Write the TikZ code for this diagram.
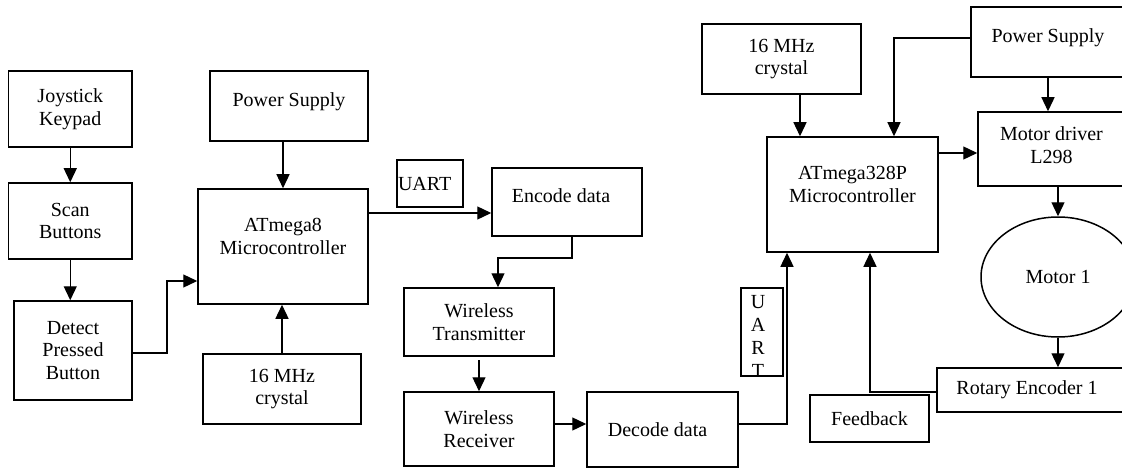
\documentclass[tikz,border=0pt]{standalone}
\usepackage{fontspec}
\setmainfont{Liberation Serif}
\usetikzlibrary{arrows.meta,shapes.geometric}
\begin{document}
\begin{tikzpicture}[x=1pt,y=-1pt,
  blk/.style={draw, line width=1.5pt, inner sep=0pt, align=center, font=\fontsize{20}{22.5}\selectfont},
  txt/.style={inner sep=0pt, font=\fontsize{20}{22.5}\selectfont},
  arr/.style={line width=1.3pt, -{Triangle[length=14pt,width=13pt]}},
  ln/.style={line width=1.3pt}]
\useasboundingbox (0,0) rectangle (1122,468);
% left part
\node[blk, minimum width=123.5pt, minimum height=76pt] (joy) at (70.25,109) {Joystick\\Keypad};
\node[blk, minimum width=123.5pt, minimum height=76pt] (scan) at (70.25,221) {Scan\\Buttons};
\node[blk, minimum width=118pt, minimum height=99pt] (det) at (73,350.5) {Detect\\Pressed\\Button};
\node[blk, minimum width=158pt, minimum height=70pt, text depth=12pt] (psL) at (289,106) {Power Supply};
\node[blk, minimum width=170pt, minimum height=115pt, text depth=20pt] (m8) at (283,246.5) {ATmega8\\Microcontroller};
\node[blk, minimum width=158pt, minimum height=70pt] (xtalL) at (282,389) {16 MHz\\crystal};
\node[blk, minimum height=47pt, inner xsep=1pt, text width=64pt, align=left] (uart1) at (430,183.5) {UART};
\node[blk, minimum width=150pt, minimum height=68pt, text depth=12pt] (enc) at (567,202) {Encode data\hspace{12pt}};
\node[blk, minimum width=150pt, minimum height=68pt] (wtx) at (479,322) {Wireless\\Transmitter};
\node[blk, minimum width=150pt, minimum height=74pt] (wrx) at (479,429) {Wireless\\Receiver};
\node[blk, minimum width=151pt, minimum height=75pt] (dec) at (662.5,429.5) {Decode data\hspace{10pt}};
% vertical UART
\node[draw, line width=1.5pt, inner sep=0pt, minimum width=42pt, minimum height=88pt] (uart2) at (762,332) {};
\begin{scope}
\clip (uart2.south west) rectangle (uart2.north east);
\node[txt, anchor=base] (u1) at (758,308) {U};
\node[txt, anchor=base] (u2) at (758,331) {A};
\node[txt, anchor=base] (u3) at (758,354) {R};
\node[txt, anchor=base] (u4) at (758,377) {T};
\end{scope}
% right part
\node[blk, minimum width=159pt, minimum height=70pt] (xtalR) at (781.5,59) {16 MHz\\crystal};
\node[blk, minimum width=171pt, minimum height=115pt, text depth=20pt] (m328) at (852.5,194.5) {ATmega328P\\Microcontroller};
\node[blk, minimum width=154pt, minimum height=70pt, text depth=12pt] (psR) at (1048,42) {Power Supply};
\node[blk, minimum width=147pt, minimum height=74pt, text depth=8pt] (md) at (1051.5,149) {Motor driver\\L298};
\node[blk, ellipse, minimum width=154pt, minimum height=120pt] (mot) at (1058,277) {Motor 1};
\node[blk, minimum width=188pt, minimum height=44pt] (rot) at (1031,390) {Rotary Encoder 1\hspace{8pt}};
\node[blk, minimum width=119pt, minimum height=47pt] (fb) at (869.5,418.5) {Feedback};
% connectors
\draw[arr] (joy.south) -- (scan.north);
\draw[arr] (scan.south) -- (scan.south |- det.north);
\draw[arr] (det.east |- 0,353) -- (167,353) |- (m8.west |- 0,281);
\draw[arr] (m8.north |- psL.south) -- (m8.north);
\draw[arr] (xtalL.north) -- (xtalL.north |- m8.south);
\draw[arr] (m8.east |- 0,213) -- (enc.west |- 0,213);
\draw[arr] (enc.south -| 572,0) -- (572,258) -- (498,258) -- (wtx.north -| 498,0);
\draw[arr] (479,360) -- (wrx.north);
\draw[arr] (wrx.east |- 0,424) -- (dec.west |- 0,424);
\draw[arr] (dec.east |- 0,424) -| (m328.south -| 787,0);
\draw[arr] (xtalR.south -| 800,0) -- (m328.north -| 800,0);
\draw[arr] (psR.west |- 0,38) -| (m328.north -| 894,0);
\draw[arr] (psR.south -| 1048,0) -- (md.north -| 1048,0);
\draw[arr] (m328.east |- 0,153) -- (md.west |- 0,153);
\draw[arr] (md.south -| 1058,0) -- (mot.north);
\draw[arr] (mot.south) -- (rot.north -| 1058,0);
\draw[arr] (rot.west |- 0,392) -| (m328.south -| 870,0);
\end{tikzpicture}
\end{document}
